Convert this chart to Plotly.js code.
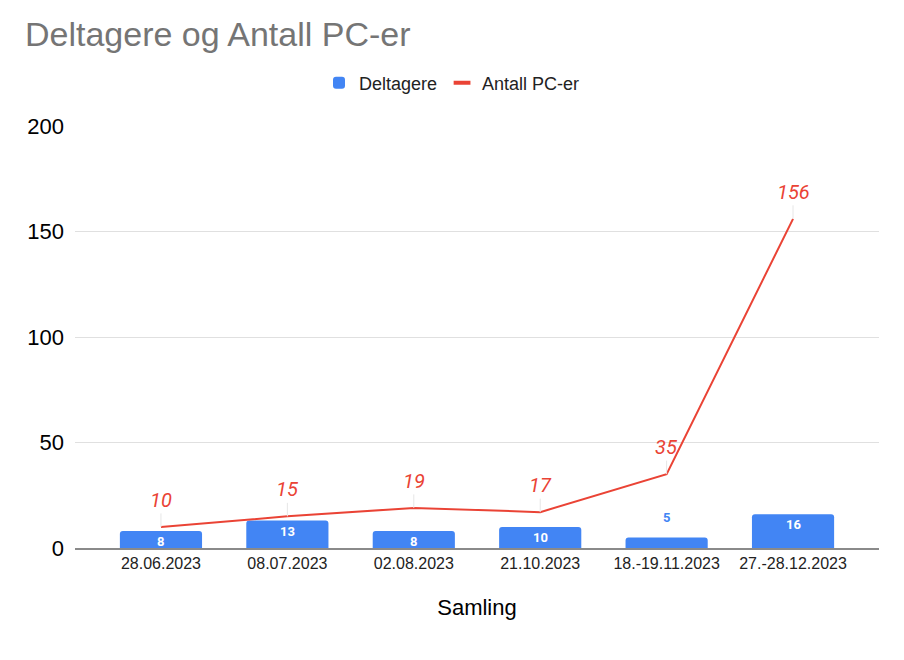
<!DOCTYPE html>
<html>
<head>
<meta charset="utf-8">
<script src="https://cdn.plot.ly/plotly-3.0.1.min.js"></script>
<style>html,body{margin:0;padding:0;background:#fff}#chart{width:904px;height:660px}</style>
</head>
<body>
<div id="chart"></div>
<script>
var categories = ["28.06.2023", "08.07.2023", "02.08.2023", "21.10.2023", "18.-19.11.2023", "27.-28.12.2023"];
var deltagere = [8, 13, 8, 10, 5, 16];
var antallPC = [10, 15, 19, 17, 35, 156];

var FONT = "Liberation Sans, Arial, sans-serif";
var BLUE = "#4285F4", RED = "#EA4335";
var PLOT_H = 422, Y_MAX = 200;

var traces = [
  {
    type: "bar",
    name: "Deltagere",
    x: categories,
    y: deltagere,
    width: 0.65,
    marker: {color: BLUE, cornerradius: 3},
    hoverinfo: "none"
  },
  {
    type: "scatter",
    mode: "lines",
    name: "Antall PC-er",
    x: categories,
    y: antallPC,
    line: {color: RED, width: 2},
    showlegend: false,
    hoverinfo: "none"
  },
  {
    // legend proxy: short thick dash like the reference legend key
    type: "scatter",
    mode: "markers",
    name: "Antall PC-er",
    x: [categories[0]],
    y: [null],
    marker: {symbol: "line-ew-open", size: 12, color: RED, line: {color: RED, width: 4}},
    hoverinfo: "none"
  }
];

var annotations = categories.map(function (c, i) {
  return {
    x: c, y: antallPC[i], xref: "x", yref: "y",
    text: String(antallPC[i]),
    showarrow: true, arrowhead: 0, arrowwidth: 1, arrowcolor: "#e6e6e6",
    ax: 0, ay: -27, standoff: 0,
    font: {family: "Roboto", size: 20, color: RED, style: "italic"}
  };
});

categories.forEach(function (c, i) {
  var px = deltagere[i] * PLOT_H / Y_MAX;
  var inside = px >= 14;
  annotations.push({
    x: c, y: deltagere[i], xref: "x", yref: "y",
    text: String(deltagere[i]),
    showarrow: false,
    yanchor: inside ? "top" : "middle",
    yshift: inside ? -1 : 20,
    font: {family: "Roboto", size: 13, weight: "bold", color: inside ? "#ffffff" : BLUE}
  });
});

var layout = {
  width: 904, height: 660,
  margin: {l: 75, r: 25, t: 126, b: 112},
  paper_bgcolor: "#ffffff", plot_bgcolor: "#ffffff",
  font: {family: FONT, color: "#000000"},
  title: {
    text: "Deltagere og Antall PC-er",
    font: {family: FONT, size: 34, color: "#757575"},
    xref: "container", yref: "container",
    x: 25/904, xanchor: "left",
    y: 1 - 34/660, yanchor: "middle"
  },
  showlegend: true,
  legend: {
    orientation: "h", x: (452 - 75) / 804, xanchor: "center",
    y: 1 + 43/422, yanchor: "middle",
    font: {family: FONT, size: 18, color: "#222222"},
    traceorder: "normal"
  },
  xaxis: {
    type: "category",
    range: [-0.68, 5.68],
    showgrid: false,
    showline: true, linecolor: "#8a8a8a", linewidth: 2,
    ticks: "",
    tickfont: {family: FONT, size: 16, color: "#222222"},
    title: {text: "Samling", font: {family: FONT, size: 22, color: "#000000"}, standoff: 28},
    fixedrange: true
  },
  yaxis: {
    range: [0, Y_MAX],
    dtick: 50,
    showgrid: true, gridcolor: "#e0e0e0", gridwidth: 1,
    zeroline: false,
    showline: false,
    ticks: "",
    ticklabelstandoff: 10,
    tickfont: {family: FONT, size: 22, color: "#000000"},
    fixedrange: true
  },
  annotations: annotations,
  bargap: 0.35
};

Plotly.newPlot("chart", traces, layout, {displayModeBar: false, staticPlot: true});
</script>
</body>
</html>
